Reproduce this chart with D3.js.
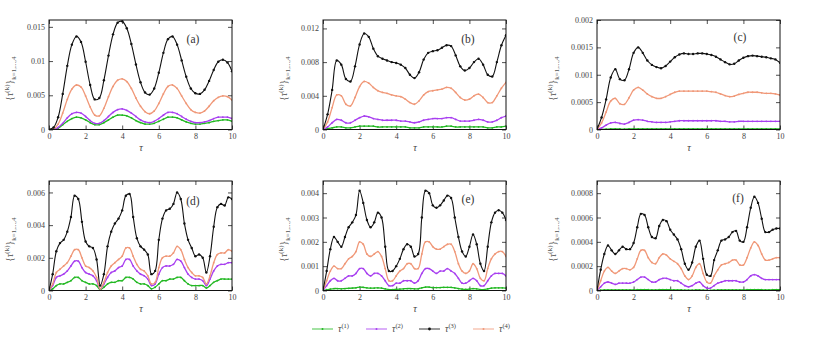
<!DOCTYPE html>
<html>
<head>
<meta charset="utf-8">
<script src="https://cdn.jsdelivr.net/npm/d3@7"></script>
<style>
body{margin:0;background:#fff}
text{font-family:"Liberation Serif","DejaVu Serif",serif}
</style>
</head>
<body>
<div id="chart"></div>
<script>
// time grids
var tauCoarse = [0,0.25,0.5,0.75,1,1.25,1.5,1.75,2,2.25,2.5,2.75,3,3.25,3.5,3.75,4,4.25,4.5,4.75,5,5.25,5.5,5.75,6,6.25,6.5,6.75,7,7.25,7.5,7.75,8,8.25,8.5,8.75,9,9.25,9.5,9.75,10];
var tauFine = [0,0.2,0.4,0.6,0.8,1,1.2,1.4,1.6,1.8,2,2.2,2.4,2.6,2.8,3,3.2,3.4,3.6,3.8,4,4.2,4.4,4.6,4.8,5,5.2,5.4,5.6,5.8,6,6.2,6.4,6.6,6.8,7,7.2,7.4,7.6,7.8,8,8.2,8.4,8.6,8.8,9,9.2,9.4,9.6,9.8,10];

// panel (a)
var aT1 = [0,0.00002,0.0002,0.0007,0.0012,0.0016,0.0018,0.0017,0.0014,0.0010,0.0007,0.0007,0.0010,0.0014,0.0018,0.0021,0.0021,0.0020,0.0017,0.0013,0.0010,0.0008,0.0008,0.0009,0.0012,0.0015,0.0018,0.0018,0.0017,0.0014,0.0011,0.0009,0.0008,0.0008,0.0009,0.0010,0.0012,0.0013,0.0014,0.0014,0.0012];
var aT2 = [0,0.00003,0.0003,0.0009,0.0017,0.0023,0.0025,0.0024,0.0019,0.0013,0.0009,0.0009,0.0013,0.0019,0.0025,0.0029,0.0030,0.0028,0.0024,0.0019,0.0014,0.0011,0.0010,0.0012,0.0016,0.0021,0.0025,0.0025,0.0023,0.0019,0.0015,0.0012,0.0010,0.0010,0.0011,0.0013,0.0016,0.0018,0.0018,0.0018,0.0016];
var aT3 = [0,0.0003,0.0018,0.0052,0.0093,0.0124,0.0136,0.0128,0.0099,0.0065,0.0044,0.0046,0.0072,0.0108,0.0139,0.0156,0.0158,0.0148,0.0125,0.0095,0.0069,0.0054,0.0051,0.0060,0.0083,0.0112,0.0132,0.0136,0.0124,0.0101,0.0077,0.0060,0.0053,0.0052,0.0058,0.0071,0.0087,0.0099,0.0102,0.0098,0.0085];
var aT4 = [0,0.0001,0.0008,0.0024,0.0044,0.0059,0.0065,0.0062,0.0049,0.0033,0.0021,0.0020,0.0031,0.0048,0.0063,0.0072,0.0074,0.0070,0.0060,0.0046,0.0034,0.0026,0.0023,0.0027,0.0038,0.0052,0.0063,0.0065,0.0060,0.0049,0.0038,0.0029,0.0025,0.0024,0.0027,0.0034,0.0042,0.0047,0.0049,0.0048,0.0043];

// panel (b)
var bT1 = [0,0.0001,0.0002,0.0003,0.0003,0.0002,0.0002,0.0003,0.0004,0.0004,0.0004,0.0004,0.0003,0.0003,0.0003,0.0003,0.0003,0.0003,0.0003,0.0002,0.0002,0.0002,0.0003,0.0003,0.0003,0.0003,0.0003,0.0004,0.0004,0.0003,0.0003,0.0003,0.0003,0.0003,0.0003,0.0003,0.0002,0.0002,0.0003,0.0003,0.0004];
var bT2 = [0,0.0003,0.0008,0.0012,0.0011,0.0008,0.0008,0.0011,0.0014,0.0016,0.0015,0.0013,0.0012,0.0011,0.0011,0.0011,0.0011,0.0010,0.0010,0.0009,0.0008,0.0009,0.0011,0.0012,0.0013,0.0013,0.0013,0.0014,0.0014,0.0012,0.0010,0.0010,0.0010,0.0011,0.0012,0.0011,0.0009,0.0009,0.0011,0.0014,0.0016];
var bT3 = [0,0.0018,0.0047,0.0082,0.0077,0.0060,0.0057,0.0075,0.0101,0.0114,0.0110,0.0096,0.0087,0.0084,0.0082,0.0080,0.0079,0.0077,0.0073,0.0065,0.0061,0.0068,0.0083,0.0091,0.0093,0.0094,0.0097,0.0100,0.0099,0.0088,0.0075,0.0070,0.0073,0.0080,0.0084,0.0077,0.0065,0.0063,0.0080,0.0100,0.0112];
var bT4 = [0,0.0009,0.0026,0.0041,0.0040,0.0030,0.0028,0.0038,0.0051,0.0057,0.0055,0.0050,0.0046,0.0044,0.0043,0.0041,0.0040,0.0039,0.0036,0.0032,0.0030,0.0034,0.0041,0.0045,0.0046,0.0047,0.0048,0.0050,0.0049,0.0044,0.0038,0.0035,0.0036,0.0040,0.0042,0.0038,0.0032,0.0032,0.0040,0.0049,0.0056];

// panel (c)
var cT1 = [0,0.000003,0.000006,0.000009,0.00001,0.000009,0.000008,0.000009,0.000011,0.000012,0.000011,0.00001,0.00001,0.00001,0.00001,0.00001,0.00001,0.000011,0.000011,0.000011,0.000011,0.000011,0.000011,0.000011,0.000011,0.000011,0.000011,0.00001,0.00001,0.00001,0.00001,0.00001,0.00001,0.00001,0.00001,0.00001,0.00001,0.00001,0.00001,0.00001,0.00001];
var cT2 = [0,0.00003,0.00008,0.00012,0.00013,0.00011,0.00010,0.00013,0.00017,0.00018,0.00017,0.00015,0.00014,0.00013,0.00013,0.00013,0.00014,0.00015,0.00016,0.00016,0.00016,0.00016,0.00016,0.00016,0.00016,0.00016,0.00016,0.00015,0.00015,0.00014,0.00014,0.00015,0.00015,0.00015,0.00015,0.00015,0.00015,0.00015,0.00015,0.00015,0.00015];
var cT3 = [0,0.00022,0.00055,0.00095,0.00110,0.00092,0.00090,0.00110,0.00140,0.00150,0.00140,0.00126,0.00118,0.00114,0.00112,0.00116,0.00124,0.00132,0.00137,0.00139,0.00138,0.00138,0.00139,0.00139,0.00138,0.00136,0.00133,0.00128,0.00123,0.00119,0.00120,0.00126,0.00131,0.00134,0.00135,0.00134,0.00133,0.00132,0.00130,0.00128,0.00122];
var cT4 = [0,0.00012,0.00032,0.00052,0.00057,0.00047,0.00046,0.00058,0.00072,0.00077,0.00072,0.00065,0.00060,0.00057,0.00057,0.00060,0.00064,0.00068,0.00070,0.00070,0.00070,0.00070,0.00070,0.00070,0.00070,0.00069,0.00068,0.00065,0.00062,0.00060,0.00061,0.00064,0.00066,0.00068,0.00068,0.00068,0.00067,0.00066,0.00066,0.00065,0.00063];

// panel (d)
var dT1 = [0,0.0001,0.0003,0.0004,0.0004,0.0005,0.0006,0.0008,0.0008,0.0006,0.0005,0.0004,0.0004,0.0003,0.00005,0.0002,0.0004,0.0005,0.0005,0.0006,0.0006,0.0008,0.0008,0.0007,0.0005,0.0004,0.0004,0.0003,0.0001,0.0002,0.0004,0.0006,0.0006,0.0007,0.0007,0.0008,0.0008,0.0006,0.0004,0.0003,0.0003,0.0003,0.0003,0.00015,0.0003,0.0005,0.0006,0.0007,0.0007,0.0007,0.0007];
var dT2 = [0,0.0003,0.0008,0.0009,0.0010,0.0012,0.0015,0.0018,0.0018,0.0014,0.0011,0.0010,0.0009,0.0006,0.0001,0.0004,0.0008,0.0011,0.0012,0.0014,0.0015,0.0019,0.0019,0.0015,0.0012,0.0010,0.0009,0.0007,0.0003,0.0004,0.0010,0.0014,0.0015,0.0015,0.0016,0.0019,0.0018,0.0014,0.0010,0.0008,0.0007,0.0007,0.0006,0.0003,0.0007,0.0012,0.0015,0.0016,0.0016,0.0017,0.0017];
var dT3 = [0,0.0010,0.0024,0.0029,0.0031,0.0036,0.0045,0.0058,0.0056,0.0042,0.0030,0.0027,0.0026,0.0019,0.0003,0.0010,0.0027,0.0036,0.0041,0.0044,0.0049,0.0058,0.0059,0.0045,0.0032,0.0027,0.0025,0.0022,0.0010,0.0012,0.0031,0.0044,0.0049,0.0050,0.0053,0.0060,0.0056,0.0041,0.0031,0.0026,0.0021,0.0022,0.0020,0.0011,0.0021,0.0039,0.0051,0.0053,0.0052,0.0057,0.0056];
var dT4 = [0,0.0004,0.0011,0.0013,0.0015,0.0017,0.0021,0.0025,0.0025,0.0020,0.0015,0.0014,0.0012,0.0008,0.0001,0.0005,0.0011,0.0015,0.0017,0.0019,0.0021,0.0026,0.0026,0.0021,0.0016,0.0013,0.0012,0.0009,0.0004,0.0005,0.0014,0.0020,0.0021,0.0021,0.0023,0.0027,0.0025,0.0019,0.0014,0.0011,0.0009,0.0009,0.0008,0.0004,0.0009,0.0017,0.0022,0.0023,0.0023,0.0025,0.0024];

// panel (e)
var eT1 = [0,0.00003,0.00006,0.00008,0.00008,0.00007,0.00008,0.00009,0.0001,0.00011,0.00014,0.00013,0.00011,0.0001,0.0001,0.00011,0.0001,0.00007,0.00004,0.00004,0.00005,0.00006,0.00007,0.00008,0.00008,0.00007,0.00007,0.00011,0.00014,0.00014,0.00012,0.00012,0.00012,0.00013,0.00013,0.00013,0.00011,0.00008,0.00006,0.00005,0.00006,0.00008,0.00007,0.00004,0.00004,0.00007,0.0001,0.00011,0.00011,0.00011,0.0001];
var eT2 = [0,0.0002,0.0004,0.0005,0.0004,0.0004,0.0005,0.0006,0.0006,0.0007,0.0009,0.0009,0.0007,0.0006,0.0007,0.0007,0.0006,0.0004,0.0002,0.0002,0.0003,0.0003,0.0004,0.0004,0.0004,0.0003,0.0004,0.0007,0.0009,0.0009,0.0008,0.0007,0.0008,0.0008,0.0009,0.0008,0.0007,0.0005,0.0003,0.0003,0.0004,0.0005,0.0004,0.0002,0.0002,0.0004,0.0006,0.0007,0.0007,0.0007,0.0006];
var eT3 = [0,0.0008,0.0017,0.0022,0.0020,0.0018,0.0022,0.0026,0.0028,0.0031,0.0041,0.0036,0.0029,0.0026,0.0028,0.0032,0.0030,0.0018,0.0008,0.0008,0.0010,0.0013,0.0017,0.0019,0.0018,0.0014,0.0015,0.0030,0.0041,0.0040,0.0035,0.0034,0.0035,0.0037,0.0039,0.0038,0.0030,0.0022,0.0016,0.0014,0.0018,0.0023,0.0019,0.0011,0.0008,0.0018,0.0028,0.0032,0.0033,0.0032,0.0029];
var eT4 = [0,0.0004,0.0008,0.0010,0.0009,0.0009,0.0011,0.0013,0.0014,0.0016,0.0020,0.0019,0.0015,0.0014,0.0015,0.0016,0.0014,0.0009,0.0004,0.0004,0.0006,0.0008,0.0009,0.0011,0.0011,0.0009,0.0009,0.0015,0.0020,0.0020,0.0018,0.0017,0.0017,0.0018,0.0019,0.0019,0.0016,0.0011,0.0008,0.0007,0.0008,0.0011,0.0009,0.0005,0.0004,0.0009,0.0013,0.0015,0.0016,0.0016,0.0014];

// panel (f)
var fT1 = [0,0.000002,0.000004,0.000005,0.000004,0.000004,0.000004,0.000005,0.000005,0.000005,0.000005,0.000006,0.000007,0.000007,0.000006,0.000005,0.000005,0.000006,0.000006,0.000006,0.000006,0.000005,0.000005,0.000004,0.000003,0.000002,0.000003,0.000004,0.000005,0.000003,0.000001,0.000001,0.000003,0.000004,0.000005,0.000005,0.000005,0.000005,0.000005,0.000005,0.000005,0.000006,0.000007,0.000008,0.000007,0.000006,0.000005,0.000005,0.000006,0.000006,0.000006];
var fT2 = [0,0.00003,0.00006,0.00007,0.00006,0.00005,0.00006,0.00006,0.00006,0.00006,0.00007,0.00009,0.00011,0.00011,0.00009,0.00007,0.00007,0.00009,0.00010,0.00010,0.00009,0.00008,0.00008,0.00006,0.00004,0.00003,0.00004,0.00006,0.00007,0.00004,0.00002,0.00002,0.00004,0.00006,0.00007,0.00008,0.00008,0.00008,0.00008,0.00007,0.00007,0.00009,0.00012,0.00013,0.00012,0.00010,0.00009,0.00009,0.00009,0.00009,0.00009];
var fT3 = [0,0.00017,0.00030,0.00037,0.00033,0.00030,0.00033,0.00036,0.00034,0.00034,0.00039,0.00052,0.00063,0.00062,0.00052,0.00044,0.00043,0.00053,0.00058,0.00057,0.00050,0.00046,0.00042,0.00034,0.00022,0.00017,0.00023,0.00036,0.00041,0.00026,0.00013,0.00012,0.00025,0.00033,0.00041,0.00042,0.00044,0.00048,0.00049,0.00041,0.00040,0.00052,0.00068,0.00077,0.00072,0.00059,0.00048,0.00048,0.00050,0.00051,0.00051];
var fT4 = [0,0.00008,0.00016,0.00019,0.00016,0.00014,0.00016,0.00018,0.00018,0.00017,0.00019,0.00026,0.00033,0.00033,0.00027,0.00023,0.00022,0.00027,0.00030,0.00029,0.00026,0.00024,0.00022,0.00018,0.00012,0.00009,0.00012,0.00019,0.00022,0.00014,0.00007,0.00006,0.00012,0.00017,0.00021,0.00022,0.00023,0.00025,0.00025,0.00021,0.00021,0.00027,0.00035,0.00040,0.00037,0.00030,0.00025,0.00025,0.00026,0.00027,0.00027];

// axis settings
var xTicks = [0,2,4,6,8,10];
var yMax = [0.016, 0.013, 0.002, 0.0067, 0.0045, 0.0009];
var yTicks = [
  [0,0.005,0.01,0.015],
  [0,0.004,0.008,0.012],
  [0,0.0005,0.001,0.0015,0.002],
  [0,0.002,0.004,0.006],
  [0,0.001,0.002,0.003,0.004],
  [0,0.0002,0.0004,0.0006,0.0008]
];
var yTickLabels = [
  ['0','0.005','0.01','0.015'],
  ['0','0.004','0.008','0.012'],
  ['0','0.0005','0.001','0.0015','0.002'],
  ['0','0.002','0.004','0.006'],
  ['0','0.001','0.002','0.003','0.004'],
  ['0','0.0002','0.0004','0.0006','0.0008']
];
var panelNames = ['(a)','(b)','(c)','(d)','(e)','(f)'];
var seriesNames = ['(1)','(2)','(3)','(4)'];
var colors = ['#22b822','#a83ff0','#111111','#f09878'];

var panels = [
  {tau: tauCoarse, s: [aT1,aT2,aT3,aT4]},
  {tau: tauCoarse, s: [bT1,bT2,bT3,bT4]},
  {tau: tauCoarse, s: [cT1,cT2,cT3,cT4]},
  {tau: tauFine, s: [dT1,dT2,dT3,dT4]},
  {tau: tauFine, s: [eT1,eT2,eT3,eT4]},
  {tau: tauFine, s: [fT1,fT2,fT3,fT4]}
];

var svg = d3.select('#chart').append('svg')
  .attr('width', 830).attr('height', 342);

var colLeft = [49, 323, 597],
    rowTop = [20, 181],
    plotW = 183,
    plotH = 109.5,
    ylabX = [13, 287, 556],
    letterPos = [[193,43],[468,43],[740,41],[193,205],[468,203],[738,202]];

var drawOrder = [0, 1, 3, 2];

panels.forEach(function(p, i){
  var col = i % 3, row = Math.floor(i / 3);
  var g = svg.append('g')
    .attr('transform', 'translate(' + colLeft[col] + ',' + rowTop[row] + ')');

  var x = d3.scaleLinear().domain([0, 10]).range([0, plotW]);
  var y = d3.scaleLinear().domain([0, yMax[i]]).range([plotH, 0]);

  g.append('clipPath').attr('id', 'clip' + i)
    .append('rect').attr('width', plotW).attr('height', plotH);

  // ticks all around, pointing inward
  var ax = [
    d3.axisBottom(x).tickValues(xTicks).tickSize(-4).tickPadding(4),
    d3.axisTop(x).tickValues(xTicks).tickSize(-4).tickFormat(''),
    d3.axisLeft(y).tickValues(yTicks[i]).tickSize(-4).tickPadding(4)
      .tickFormat(function(d, j){ return yTickLabels[i][j]; }),
    d3.axisRight(y).tickValues(yTicks[i]).tickSize(-4).tickFormat('')
  ];
  var pos = ['0,' + plotH, '0,0', '0,0', plotW + ',0'];
  ax.forEach(function(a, k){
    var ag = g.append('g').attr('transform', 'translate(' + pos[k] + ')').call(a);
    ag.select('.domain').remove();
    ag.selectAll('line').attr('stroke', '#222').attr('stroke-width', 0.8);
    ag.selectAll('text').attr('fill', '#444').attr('font-size', 8)
      .attr('font-family', '"Liberation Serif","DejaVu Serif",serif');
  });

  var plot = g.append('g').attr('clip-path', 'url(#clip' + i + ')');
  var line = d3.line()
    .x(function(d, j){ return x(p.tau[j]); })
    .y(function(d){ return y(d); })
    .curve(d3.curveCatmullRom.alpha(0.5));

  drawOrder.forEach(function(k){
    var vals = p.s[k];
    plot.append('path').datum(vals)
      .attr('d', line)
      .attr('fill', 'none')
      .attr('stroke', colors[k])
      .attr('stroke-width', k == 2 ? 1.1 : 1.3);
    plot.selectAll('circle.s' + k).data(vals).enter()
      .append('circle').attr('class', 's' + k)
      .attr('cx', function(d, j){ return x(p.tau[j]); })
      .attr('cy', function(d){ return y(d); })
      .attr('r', k == 2 ? 1.2 : 0.9)
      .attr('fill', colors[k]);
  });

  g.append('rect').attr('width', plotW).attr('height', plotH)
    .attr('fill', 'none').attr('stroke', '#111').attr('stroke-width', 1);

  // x label
  g.append('text').attr('x', plotW / 2 + 0.5).attr('y', plotH + 21)
    .attr('text-anchor', 'middle').attr('fill', '#444')
    .attr('font-size', 10).attr('font-style', 'italic').text('τ');

  // y label
  var yl = svg.append('text')
    .attr('transform', 'translate(' + ylabX[col] + ',' + (rowTop[row] + plotH / 2 + 4) + ') rotate(-90)')
    .attr('text-anchor', 'middle').attr('fill', '#555').attr('font-size', 10);
  yl.append('tspan').text('{');
  yl.append('tspan').attr('font-style', 'italic').text('τ');
  yl.append('tspan').attr('font-size', 7).attr('dy', -4).text('(k)');
  yl.append('tspan').attr('dy', 4).text('}');
  yl.append('tspan').attr('font-size', 7).attr('dy', 3).text('k=1,...,4');

  svg.append('text').attr('x', letterPos[i][0]).attr('y', letterPos[i][1])
    .attr('text-anchor', 'middle').attr('fill', '#333')
    .attr('font-size', 11.5).text(panelNames[i]);
});

// legend
var legX = [312, 366, 419, 473], legY = 329;
seriesNames.forEach(function(name, k){
  var lg = svg.append('g').attr('transform', 'translate(' + legX[k] + ',' + legY + ')');
  lg.append('line').attr('x1', 0).attr('x2', 21).attr('y1', 0).attr('y2', 0)
    .attr('stroke', colors[k]).attr('stroke-opacity', 0.7).attr('stroke-width', 1.2);
  lg.append('circle').attr('cx', 10.5).attr('cy', 0).attr('r', k == 2 ? 1.4 : 1)
    .attr('fill', colors[k]);
  var t = lg.append('text').attr('x', 26).attr('y', 3).attr('fill', '#444').attr('font-size', 9.5);
  t.append('tspan').attr('font-style', 'italic').text('τ');
  t.append('tspan').attr('font-size', 6.5).attr('dy', -4).text(name);
});
</script>
</body>
</html>
